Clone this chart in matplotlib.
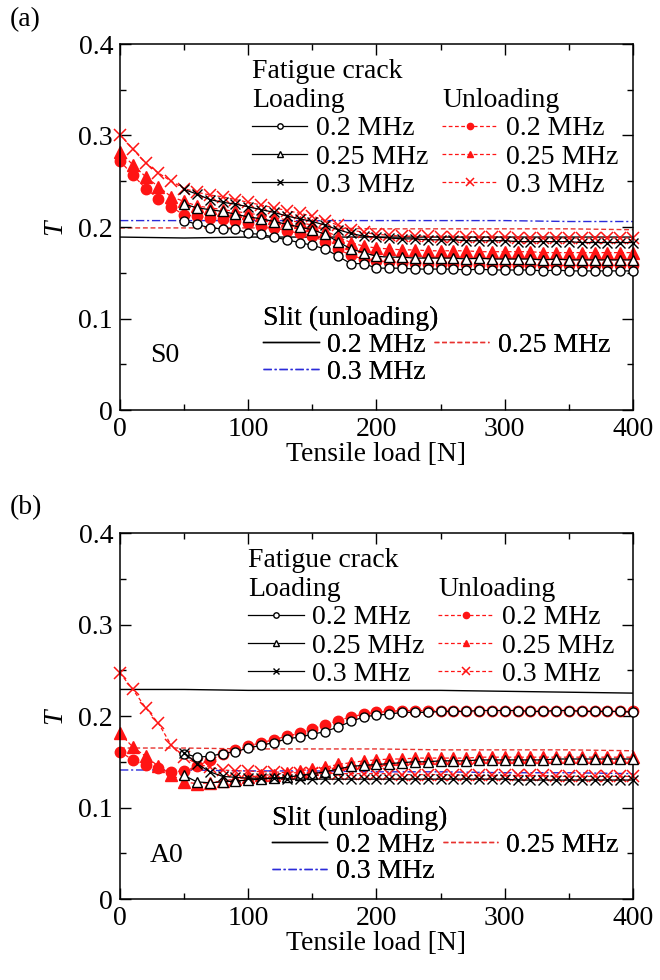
import matplotlib
matplotlib.use('Agg')
import matplotlib.pyplot as plt
from matplotlib.ticker import MultipleLocator, FuncFormatter

plt.rcParams['font.family'] = ['Liberation Serif', 'DejaVu Serif']
FS = 20

# ---------------- data ----------------
x_load = [50, 60, 70, 80, 90, 100, 110, 120, 130, 140, 150, 160, 170, 180, 190, 200,
          210, 220, 230, 240, 250, 260, 270, 280, 290, 300, 310, 320, 330, 340, 350,
          360, 370, 380, 390, 400]
x_unload = [0, 10, 20, 30, 40] + x_load
x_slit = [0, 50, 100, 150, 200, 250, 300, 350, 400]

# Panel (a) S0
a_load_02 = [0.207, 0.203, 0.199, 0.198, 0.198, 0.193, 0.192, 0.189, 0.186, 0.183, 0.180,
             0.176, 0.168, 0.160, 0.160, 0.155, 0.155, 0.155, 0.154, 0.154, 0.154, 0.154,
             0.153, 0.154, 0.153, 0.153, 0.153, 0.153, 0.152, 0.153, 0.152, 0.152, 0.152,
             0.152, 0.152, 0.152]
a_load_025 = [0.225, 0.221, 0.219, 0.217, 0.214, 0.211, 0.209, 0.206, 0.203, 0.200, 0.197,
              0.192, 0.184, 0.176, 0.172, 0.168, 0.167, 0.167, 0.166, 0.166, 0.166, 0.166,
              0.165, 0.166, 0.165, 0.165, 0.165, 0.165, 0.164, 0.165, 0.164, 0.164, 0.164,
              0.164, 0.164, 0.164]
a_load_03 = [0.241, 0.236, 0.230, 0.227, 0.225, 0.222, 0.219, 0.216, 0.212, 0.209, 0.206,
             0.202, 0.197, 0.193, 0.190, 0.189, 0.188, 0.187, 0.187, 0.186, 0.186, 0.186,
             0.185, 0.185, 0.185, 0.185, 0.184, 0.184, 0.184, 0.184, 0.184, 0.183, 0.183,
             0.183, 0.183, 0.183]
a_unl_02 = [0.272, 0.257, 0.242, 0.231, 0.222, 0.213, 0.212, 0.210, 0.209, 0.207, 0.204,
            0.201, 0.199, 0.196, 0.193, 0.190, 0.184, 0.176, 0.169, 0.165, 0.163, 0.162,
            0.161, 0.161, 0.160, 0.160, 0.160, 0.160, 0.159, 0.159, 0.159, 0.159, 0.159,
            0.158, 0.158, 0.158, 0.158, 0.158, 0.158, 0.158, 0.158]
a_unl_025 = [0.282, 0.268, 0.255, 0.244, 0.233, 0.228, 0.223, 0.221, 0.219, 0.217, 0.215,
             0.213, 0.210, 0.208, 0.205, 0.202, 0.196, 0.189, 0.183, 0.179, 0.177, 0.176,
             0.175, 0.175, 0.174, 0.174, 0.174, 0.174, 0.173, 0.173, 0.173, 0.173, 0.173,
             0.172, 0.172, 0.172, 0.172, 0.172, 0.172, 0.172, 0.172]
a_unl_03 = [0.301, 0.285, 0.270, 0.259, 0.250, 0.242, 0.238, 0.235, 0.233, 0.230, 0.227,
            0.224, 0.221, 0.218, 0.215, 0.212, 0.207, 0.202, 0.197, 0.194, 0.192, 0.191,
            0.190, 0.190, 0.190, 0.189, 0.189, 0.189, 0.189, 0.189, 0.189, 0.188, 0.188,
            0.188, 0.188, 0.188, 0.188, 0.188, 0.188, 0.188, 0.188]
a_slit_02 = [0.189, 0.188, 0.189, 0.189, 0.189, 0.189, 0.189, 0.189, 0.189]
a_slit_025 = [0.199, 0.199, 0.199, 0.199, 0.198, 0.198, 0.198, 0.198, 0.197]
a_slit_03 = [0.207, 0.207, 0.207, 0.207, 0.207, 0.207, 0.207, 0.206, 0.206]

# Panel (b) A0
b_load_02 = [0.159, 0.155, 0.156, 0.159, 0.161, 0.165, 0.168, 0.171, 0.175, 0.177, 0.180,
             0.183, 0.188, 0.194, 0.199, 0.201, 0.202, 0.204, 0.204, 0.204, 0.205, 0.205,
             0.205, 0.206, 0.206, 0.206, 0.206, 0.205, 0.205, 0.206, 0.206, 0.205, 0.205,
             0.205, 0.205, 0.204]
b_load_025 = [0.135, 0.128, 0.127, 0.128, 0.129, 0.130, 0.131, 0.132, 0.133, 0.135, 0.137,
              0.139, 0.142, 0.145, 0.146, 0.147, 0.148, 0.149, 0.150, 0.150, 0.151, 0.151,
              0.151, 0.152, 0.152, 0.152, 0.152, 0.152, 0.152, 0.153, 0.153, 0.153, 0.153,
              0.153, 0.153, 0.153]
b_load_03 = [0.160, 0.148, 0.139, 0.134, 0.133, 0.132, 0.132, 0.132, 0.131, 0.131, 0.131,
             0.131, 0.131, 0.131, 0.131, 0.131, 0.131, 0.131, 0.131, 0.131, 0.131, 0.131,
             0.131, 0.131, 0.131, 0.131, 0.130, 0.130, 0.130, 0.130, 0.130, 0.130, 0.130,
             0.130, 0.130, 0.130]
b_unl_02 = [0.161, 0.152, 0.146, 0.143, 0.139, 0.140, 0.145, 0.152, 0.158, 0.163, 0.167,
            0.171, 0.174, 0.178, 0.181, 0.186, 0.190, 0.195, 0.199, 0.202, 0.204, 0.205,
            0.206, 0.206, 0.206, 0.206, 0.206, 0.206, 0.206, 0.206, 0.206, 0.206, 0.206,
            0.206, 0.206, 0.206, 0.206, 0.205, 0.205, 0.205, 0.205]
b_unl_025 = [0.181, 0.166, 0.156, 0.145, 0.136, 0.128, 0.126, 0.127, 0.129, 0.131, 0.133,
             0.135, 0.136, 0.138, 0.140, 0.142, 0.144, 0.147, 0.149, 0.151, 0.152, 0.153,
             0.153, 0.154, 0.154, 0.154, 0.154, 0.154, 0.155, 0.155, 0.155, 0.155, 0.155,
             0.155, 0.155, 0.155, 0.155, 0.155, 0.155, 0.155, 0.155]
b_unl_03 = [0.247, 0.229, 0.209, 0.192, 0.168, 0.155, 0.148, 0.144, 0.141, 0.140, 0.140,
            0.139, 0.139, 0.138, 0.138, 0.138, 0.138, 0.137, 0.137, 0.137, 0.137, 0.137,
            0.136, 0.136, 0.136, 0.136, 0.136, 0.135, 0.135, 0.135, 0.135, 0.135, 0.135,
            0.135, 0.134, 0.134, 0.134, 0.134, 0.134, 0.134, 0.134]
b_slit_02 = [0.229, 0.229, 0.228, 0.228, 0.228, 0.228, 0.227, 0.226, 0.225]
b_slit_025 = [0.165, 0.165, 0.164, 0.164, 0.164, 0.163, 0.163, 0.163, 0.162]
b_slit_03 = [0.141, 0.141, 0.140, 0.140, 0.139, 0.139, 0.138, 0.138, 0.137]

freq_labels = ['0.2 MHz', '0.25 MHz', '0.3 MHz']
panel_tags = ['(a)', '(b)']
mode_tags = ['S0', 'A0']

# ---------------- figure ----------------
W, H = 660, 980
fig = plt.figure(figsize=(W / 100, H / 100), dpi=100)

def fx(px):
    return px / W

def fy(py):
    return 1 - py / H

panels = [
    dict(top=44, bottom=410, load=[a_load_02, a_load_025, a_load_03],
         unl=[a_unl_02, a_unl_025, a_unl_03], slit=[a_slit_02, a_slit_025, a_slit_03],
         fat_x=0.257, fat_y=0.958, unl_x=0.628, slit_x=0.279, slit_y=0.285,
         tag=panel_tags[0], tag_y=20, mode=mode_tags[0], mode_y=0.15),
    dict(top=533, bottom=899, load=[b_load_02, b_load_025, b_load_03],
         unl=[b_unl_02, b_unl_025, b_unl_03], slit=[b_slit_02, b_slit_025, b_slit_03],
         fat_x=0.25, fat_y=0.958, unl_x=0.62, slit_x=0.296, slit_y=0.255,
         tag=panel_tags[1], tag_y=508, mode=mode_tags[1], mode_y=0.12),
]

load_markers = ['o', '^', 'x']
load_ms = [6.5, 7.0, 7.5]
unl_markers = ['o', '^', 'x']
unl_ms = [7.5, 8.0, 9.0]
slit_styles = [dict(color='black', ls='-', lw=1.0),
               dict(color='#e8322e', ls=(0, (3.5, 2.0)), lw=1.0),
               dict(color='#2b2bd9', ls=(0, (6, 2, 1.5, 2)), lw=1.0)]

red = '#ff1414'

for p in panels:
    ax = fig.add_axes([fx(120), fy(p['bottom']), fx(633 - 120), (p['bottom'] - p['top']) / H])

    # slit lines
    slit_h = []
    for vals, st in zip(p['slit'], slit_styles):
        h, = ax.plot(x_slit, vals, color=st['color'], linestyle=st['ls'], lw=st['lw'], zorder=1)
        slit_h.append(h)

    # unloading (red)
    unl_h = []
    for vals, m, ms in zip(p['unl'], unl_markers, unl_ms):
        if m == 'x':
            h, = ax.plot(x_unload, vals, color=red, ls=(0, (3, 2)), lw=0.9, marker='x',
                         ms=ms, mew=1.1, mec=red, clip_on=False, zorder=2)
        else:
            h, = ax.plot(x_unload, vals, color=red, ls=(0, (3, 2)), lw=0.9, marker=m,
                         ms=ms, mfc=red, mec=red, clip_on=False, zorder=2)
        unl_h.append(h)

    # loading (black, open)
    load_h = []
    for vals, m, ms in zip(p['load'], load_markers, load_ms):
        if m == 'x':
            h, = ax.plot(x_load, vals, color='black', ls='-', lw=0.9, marker='x',
                         ms=ms, mew=1.0, mec='black', clip_on=False, zorder=3)
        else:
            h, = ax.plot(x_load, vals, color='black', ls='-', lw=0.9, marker=m,
                         ms=ms, mfc='white', mec='black', mew=1.0, clip_on=False, zorder=3)
        load_h.append(h)

    ax.set_xlim(0, 400)
    ax.set_ylim(0, 0.4)
    ax.xaxis.set_major_locator(MultipleLocator(100))
    ax.xaxis.set_minor_locator(MultipleLocator(50))
    ax.yaxis.set_major_locator(MultipleLocator(0.1))
    ax.yaxis.set_minor_locator(MultipleLocator(0.05))
    fmt = FuncFormatter(lambda v, pos: '%g' % round(v, 3))
    ax.xaxis.set_major_formatter(fmt)
    ax.yaxis.set_major_formatter(fmt)
    ax.tick_params(which='both', direction='in', top=True, right=True, labelsize=FS,
                   width=1.0)
    ax.tick_params(which='major', length=8, pad=5)
    ax.tick_params(which='minor', length=4.5)
    for s in ax.spines.values():
        s.set_linewidth(1.1)
    ax.set_xlabel('Tensile load [N]', fontsize=FS, labelpad=0)
    ax.set_ylabel('T', fontsize=FS, fontstyle='italic', labelpad=8)

    common = dict(loc='upper left', frameon=False, borderpad=0, borderaxespad=0,
                  handlelength=2.0, handletextpad=0.3, labelspacing=0.1,
                  markerscale=0.6, alignment='left', fontsize=FS, title_fontsize=FS,
                  numpoints=1)
    leg1 = ax.legend(handles=load_h, labels=freq_labels, title='Fatigue crack\nLoading',
                     bbox_to_anchor=(p['fat_x'], p['fat_y']), **common)
    ax.add_artist(leg1)
    leg2 = ax.legend(handles=unl_h, labels=freq_labels, title=' \nUnloading',
                     bbox_to_anchor=(p['unl_x'], p['fat_y']), **common)
    ax.add_artist(leg2)
    common3 = dict(common)
    common3['markerscale'] = 1.0
    common3['columnspacing'] = 0.3
    common3['labelspacing'] = 0.05
    leg3 = ax.legend(handles=[slit_h[0], slit_h[2], slit_h[1]],
                     labels=[freq_labels[0], freq_labels[2], freq_labels[1]],
                     title='Slit (unloading)', ncol=2,
                     bbox_to_anchor=(p['slit_x'], p['slit_y']), **common3)
    ax.add_artist(leg3)

    ax.text(0.058, p['mode_y'], p['mode'], transform=ax.transAxes, fontsize=FS,
            va='center', ha='left')
    fig.text(fx(10), fy(p['tag_y']), p['tag'], fontsize=FS, va='center', ha='left')

fig.savefig('out.png', dpi=100)
